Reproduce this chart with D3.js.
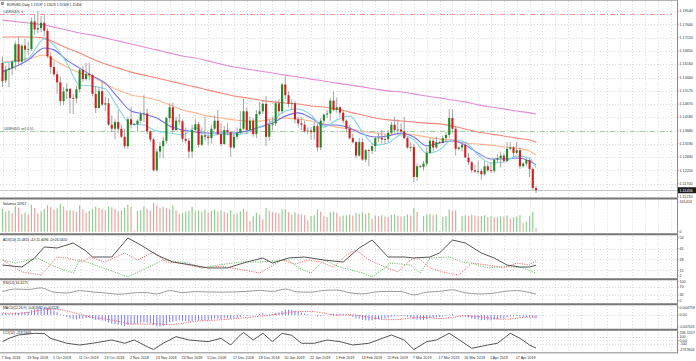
<!DOCTYPE html>
<html>
<head>
<meta charset="utf-8">
<script src="https://cdn.jsdelivr.net/npm/d3@7"></script>
<style>
html, body { margin: 0; padding: 0; background: #ffffff; }
svg { display: block; font-family: "Liberation Sans", Arial, sans-serif; }
</style>
</head>
<body>
<svg id="chart" width="696" height="361"></svg>
<script>
// ---------- data ----------
let dateLabels = ['7 Sep 2018', '19 Sep 2018', '1 Oct 2018', '11 Oct 2018', '23 Oct 2018', '2 Nov 2018',
    '13 Nov 2018', '23 Nov 2018', '5 Dec 2018', '17 Dec 2018', '28 Dec 2018', '10 Jan 2019', '22 Jan 2019',
    '1 Feb 2019', '13 Feb 2019', '25 Feb 2019', '7 Mar 2019', '17 Mar 2019', '26 Mar 2019', '5 Apr 2019',
    '17 Apr 2019'];

let open = [
    1.1620,1.1555,1.1595,1.1600,1.1625,1.1690,1.1625,1.1685,
    1.1670,1.1672,1.1775,1.1745,1.1750,1.1770,1.1740,1.1645,
    1.1605,1.1578,1.1548,1.1478,1.1514,1.1524,1.1490,1.1488,
    1.1522,1.1595,1.1560,1.1580,1.1575,1.1505,1.1452,1.1515,
    1.1465,1.1470,1.1390,1.1375,1.1400,1.1375,1.1345,1.1310,
    1.1410,1.1390,1.1392,1.1405,1.1430,1.1432,1.1365,1.1335,
    1.1220,1.1290,1.1310,1.1330,1.1415,1.1455,1.1370,1.1405,
    1.1403,1.1337,1.1330,1.1290,1.1370,1.1392,1.1315,1.1350,
    1.1345,1.1340,1.1375,1.1405,1.1355,1.1318,1.1370,1.1362,
    1.1305,1.1345,1.1360,1.1375,1.1440,1.1370,1.1405,1.1355,
    1.1430,1.1440,1.1468,1.1345,1.1390,1.1395,1.1470,1.1440,
    1.1540,1.1500,1.1468,1.1470,1.1410,1.1395,1.1390,1.1365,
    1.1368,1.1362,1.1385,1.1305,1.1405,1.1428,1.1432,1.1480,
    1.1445,1.1455,1.1435,1.1405,1.1375,1.1340,1.1325,1.1275,
    1.1325,1.1260,1.1295,1.1293,1.1310,1.1340,1.1342,1.1335,
    1.1336,1.1360,1.1390,1.1370,1.1372,1.1365,1.1340,1.1305,
    1.1307,1.1195,1.1235,1.1232,1.1245,1.1285,1.1330,1.1305,
    1.1325,1.1322,1.1340,1.1352,1.1415,1.1375,1.1300,1.1305,
    1.1315,1.1268,1.1250,1.1220,1.1215,1.1217,1.1205,1.1235,
    1.1220,1.1218,1.1260,1.1265,1.1275,1.1255,1.1300,1.1305,
    1.1285,1.1295,1.1235,1.1245,1.1258,1.1225,1.11537];

let high = [
    1.1645,1.1610,1.1620,1.1630,1.1700,1.1720,1.1690,1.1710,
    1.1700,1.1790,1.1802,1.1815,1.1795,1.1800,1.1750,1.1660,
    1.1625,1.1590,1.1570,1.1530,1.1545,1.1525,1.1505,1.1535,
    1.1600,1.1610,1.1621,1.1620,1.1580,1.1535,1.1530,1.1550,
    1.1495,1.1490,1.1425,1.1410,1.1445,1.1390,1.1375,1.1420,
    1.1456,1.1396,1.1410,1.1440,1.1500,1.1450,1.1370,1.1340,
    1.1300,1.1325,1.1345,1.1420,1.1470,1.1472,1.1420,1.1430,
    1.1410,1.1380,1.1340,1.1390,1.1410,1.1400,1.1380,1.1420,
    1.1360,1.1390,1.1425,1.1445,1.1395,1.1385,1.1395,1.1365,
    1.1355,1.1380,1.1440,1.1486,1.1455,1.1420,1.1415,1.1445,
    1.1475,1.1480,1.1497,1.1410,1.1420,1.1480,1.1485,1.1545,
    1.1570,1.1515,1.1485,1.1480,1.1420,1.1420,1.1405,1.1380,
    1.1380,1.1400,1.1395,1.1415,1.1430,1.1445,1.1490,1.1514,
    1.1490,1.1460,1.1445,1.1410,1.1390,1.1355,1.1330,1.1340,
    1.1340,1.1300,1.1300,1.1320,1.1345,1.1360,1.1370,1.1355,
    1.1370,1.1400,1.1420,1.1410,1.1395,1.1420,1.1345,1.1325,
    1.1320,1.1245,1.1240,1.1255,1.1305,1.1340,1.1338,1.1345,
    1.1330,1.1350,1.1362,1.1448,1.1448,1.1385,1.1310,1.1325,
    1.1325,1.1285,1.1255,1.1240,1.1255,1.1225,1.1255,1.1245,
    1.1250,1.1265,1.1280,1.1290,1.1285,1.1325,1.1325,1.1310,
    1.1325,1.1305,1.1250,1.1265,1.1265,1.1230,1.11623];

let low = [
    1.1530,1.1545,1.1530,1.1575,1.1595,1.1610,1.1610,1.1625,
    1.1650,1.1665,1.1725,1.1730,1.1735,1.1720,1.1640,1.1580,
    1.1570,1.1505,1.1460,1.1463,1.1485,1.1432,1.1430,1.1470,
    1.1510,1.1550,1.1555,1.1555,1.1495,1.1433,1.1450,1.1460,
    1.1440,1.1385,1.1365,1.1336,1.1360,1.1340,1.1300,1.1300,
    1.1375,1.1386,1.1365,1.1395,1.1400,1.1355,1.1325,1.1216,
    1.1216,1.1265,1.1265,1.1320,1.1400,1.1360,1.1365,1.1390,
    1.1325,1.1320,1.1265,1.1267,1.1365,1.1305,1.1310,1.1330,
    1.1315,1.1320,1.1370,1.1350,1.1310,1.1315,1.1350,1.1270,
    1.1300,1.1335,1.1355,1.1370,1.1355,1.1365,1.1345,1.1340,
    1.1425,1.1430,1.1310,1.1330,1.1370,1.1385,1.1425,1.1430,
    1.1485,1.1455,1.1445,1.1395,1.1380,1.1370,1.1360,1.1355,
    1.1335,1.1335,1.1290,1.1295,1.1395,1.1415,1.1405,1.1440,
    1.1435,1.1420,1.1395,1.1360,1.1335,1.1320,1.1265,1.1270,
    1.1255,1.1250,1.1235,1.1280,1.1290,1.1325,1.1320,1.1320,
    1.1325,1.1350,1.1360,1.1360,1.1355,1.1335,1.1300,1.1290,
    1.1176,1.1180,1.1228,1.1220,1.1235,1.1280,1.1290,1.1300,
    1.1318,1.1320,1.1325,1.1340,1.1360,1.1275,1.1295,1.1290,
    1.1265,1.1240,1.1210,1.1210,1.1205,1.1185,1.1200,1.1215,
    1.1210,1.1210,1.1250,1.1230,1.1250,1.1250,1.1295,1.1270,
    1.1280,1.1225,1.1230,1.1235,1.1195,1.1145,1.11348];

let close = [
    1.1552,1.1595,1.1600,1.1625,1.1690,1.1625,1.1685,1.1670,
    1.1672,1.1775,1.1745,1.1750,1.1770,1.1740,1.1645,1.1605,
    1.1578,1.1548,1.1478,1.1514,1.1524,1.1490,1.1488,1.1522,
    1.1595,1.1560,1.1580,1.1575,1.1505,1.1452,1.1515,1.1465,
    1.1470,1.1390,1.1375,1.1400,1.1375,1.1345,1.1310,1.1410,
    1.1390,1.1392,1.1405,1.1430,1.1432,1.1365,1.1335,1.1220,
    1.1290,1.1310,1.1330,1.1415,1.1455,1.1370,1.1405,1.1403,
    1.1337,1.1330,1.1290,1.1370,1.1392,1.1315,1.1350,1.1345,
    1.1340,1.1375,1.1405,1.1355,1.1318,1.1370,1.1362,1.1305,
    1.1345,1.1360,1.1375,1.1440,1.1370,1.1405,1.1355,1.1430,
    1.1440,1.1468,1.1345,1.1390,1.1395,1.1470,1.1440,1.1540,
    1.1500,1.1468,1.1470,1.1410,1.1395,1.1390,1.1365,1.1368,
    1.1362,1.1385,1.1305,1.1405,1.1428,1.1432,1.1480,1.1445,
    1.1455,1.1435,1.1405,1.1375,1.1340,1.1325,1.1275,1.1325,
    1.1260,1.1295,1.1293,1.1310,1.1340,1.1342,1.1335,1.1336,
    1.1360,1.1390,1.1370,1.1372,1.1365,1.1340,1.1305,1.1307,
    1.1195,1.1235,1.1232,1.1245,1.1285,1.1330,1.1305,1.1325,
    1.1322,1.1340,1.1352,1.1415,1.1375,1.1300,1.1305,1.1315,
    1.1268,1.1250,1.1220,1.1215,1.1217,1.1205,1.1235,1.1220,
    1.1218,1.1260,1.1265,1.1275,1.1255,1.1300,1.1305,1.1285,
    1.1295,1.1235,1.1245,1.1258,1.1225,1.1154,1.11456];

let volume = [
    128000,112000,118000,104000,142000,135000,98000,106000,
    96000,150000,132000,104000,112000,126000,148000,138000,
    122000,130000,155000,140000,118000,121000,117000,110000,
    146000,124000,105000,115000,128000,140000,132000,126000,
    118000,142000,136000,128000,112000,120000,134000,150000,
    138000,6000,116000,120000,140000,128000,118000,160000,
    148000,132000,138000,130000,126000,146000,120000,98000,
    104000,112000,116000,138000,114000,118000,110000,122000,
    108000,116000,124000,112000,118000,110000,104000,120000,
    98000,102000,112000,128000,114000,60000,86000,106000,
    94000,70000,132000,118000,110000,106000,102000,124000,
    126000,110000,94000,108000,98000,96000,92000,64000,
    88000,92000,124000,112000,86000,82000,108000,112000,
    104000,84000,90000,92000,96000,90000,104000,100000,
    108000,98000,104000,72000,90000,86000,92000,84000,
    82000,94000,96000,88000,84000,86000,96000,90000,
    132000,110000,4000,88000,96000,98000,92000,96000,
    5000,82000,86000,124000,116000,118000,5000,86000,
    92000,88000,96000,90000,84000,88000,92000,82000,
    86000,80000,82000,86000,84000,90000,74000,80000,
    84000,92000,48000,56000,86000,112000,20957];

// moving averages, read at these bar positions
let maIdx = [0,8,13,16,20,24,28,32,36,40,44,48,52,56,60,64,68,72,76,80,84,88,92,96,100,
    104,108,112,116,120,124,128,132,136,140,144,148,152,156,160,164,166];
let maPink = [1.1780,1.1769,1.1762,1.1754,1.1743,1.1732,1.1724,1.1713,1.1702,1.1691,1.1680,1.1669,
    1.1657,1.1646,1.1639,1.1628,1.1616,1.1605,1.1598,1.1590,1.1583,1.1575,1.1568,1.1560,1.1553,1.1545,
    1.1538,1.1531,1.1523,1.1516,1.1512,1.1505,1.1497,1.1490,1.1482,1.1475,1.1464,1.1456,1.1449,1.1441,
    1.1434,1.1430];
let maRed = [1.1717,1.1717,1.1713,1.1698,1.1676,1.1657,1.1635,1.1616,1.1601,1.1586,1.1575,1.1564,
    1.1553,1.1542,1.1531,1.1519,1.1508,1.1497,1.1490,1.1482,1.1475,1.1471,1.1467,1.1460,1.1456,1.1449,
    1.1437,1.1426,1.1415,1.1408,1.1404,1.1400,1.1396,1.1393,1.1385,1.1374,1.1363,1.1355,1.1348,1.1340,
    1.1333,1.1325];
let maOrange = [1.1624,1.1635,1.1650,1.1631,1.1605,1.1583,1.1568,1.1542,1.1519,1.1501,1.1493,1.1482,
    1.1464,1.1445,1.1434,1.1422,1.1415,1.1408,1.1404,1.1404,1.1411,1.1415,1.1411,1.1404,1.1393,1.1381,
    1.1374,1.1366,1.1359,1.1355,1.1355,1.1352,1.1344,1.1337,1.1333,1.1322,1.1318,1.1314,1.1307,1.1303,
    1.1292,1.1277];
let maBlue = [1.1587,1.1631,1.1676,1.1669,1.1631,1.1601,1.1572,1.1545,1.1490,1.1441,1.1430,1.1415,
    1.1385,1.1370,1.1363,1.1359,1.1359,1.1359,1.1366,1.1381,1.1396,1.1422,1.1434,1.1415,1.1389,1.1389,
    1.1378,1.1355,1.1344,1.1348,1.1359,1.1344,1.1311,1.1322,1.1329,1.1314,1.1284,1.1262,1.1262,1.1266,
    1.1255,1.1240];
let maCyan = [1.1620,1.1639,1.1710,1.1687,1.1620,1.1538,1.1534,1.1523,1.1452,1.1393,1.1389,1.1366,
    1.1359,1.1352,1.1378,1.1348,1.1355,1.1352,1.1359,1.1381,1.1404,1.1441,1.1449,1.1426,1.1381,1.1408,
    1.1422,1.1363,1.1314,1.1322,1.1352,1.1333,1.1284,1.1296,1.1333,1.1325,1.1277,1.1247,1.1251,1.1273,
    1.1266,1.1229];

let slPrice = 1.1802;
let sellPrice = 1.1366;
let lastPrice = 1.11456;

// ADX(14)
let adxIdx = [0,6,10,13,17,22,26,28,34,39,43,48,53,59,64,70,76,81,84,89,94,100,106,111,115,120,
    125,128,133,136,140,144,149,153,157,161,164,166];
let adxVal = [21.3,18.9,29.7,42.9,41.7,47.7,38,30.9,30.9,53.6,45.3,33.3,24.9,21.3,17.8,17.8,24.9,29.7,
    23.7,29.7,30.9,27.3,24.9,41.7,51.2,30.9,30.9,29.7,30.9,35.7,51.2,47.7,35.7,29.7,21.3,18.9,18.9,21.08];
let pdiIdx = [0,4,11,15,22,24,39,50,58,62,67,74,80,89,92,96,100,105,112,115,121,127,130,133,139,143,
    146,151,156,162,166];
let pdiVal = [27.3,23.7,29.7,21.3,11.8,28,7.1,27.3,23.7,17.8,21.3,24.9,24.9,27.3,17.8,11.8,27.3,18.9,
    11.8,7.1,23.7,21.3,11.8,29.7,30.9,24.9,23.7,17.8,20,17.8,11.41];
let mdiIdx = [0,6,12,17,20,25,27,32,38,42,47,51,55,62,68,75,80,87,91,95,99,103,107,110,114,119,123,
    127,129,133,137,142,146,151,156,160,164,166];
let mdiVal = [27.3,13.0,9.4,30.9,29.7,24.9,30.9,24.9,35.7,27.3,36.9,24.9,23.7,17.8,20,15.4,11.8,27.3,
    22.5,27.3,24.9,18.9,33.3,39.3,27.3,18.9,13.0,27.3,30.9,17.8,13.0,9.4,23.7,21.3,17.8,23.7,21.3,26.56];

// RSI(14) and MACD signal, read every 4 bars
let stepIdx = [0,4,8,12,16,20,24,28,32,36,40,44,48,52,56,60,64,68,72,76,80,84,88,92,96,100,104,108,
    112,116,120,124,128,132,136,140,144,148,152,156,160,164,166];
let rsiVal = [47,60,58,66,44,40,52,45,40,33,39,43,35,52,42,47,45,44,45,48,53,48,60,45,44,53,55,41,35,
    45,48,47,30,44,48,56,41,35,37,48,52,42,34.33];
let macdSignal = [0.0012,0.0011,0.0017,0.0030,0.0036,0.0025,0.0006,-0.0014,-0.0024,-0.0037,-0.0054,
    -0.0055,-0.0053,-0.0058,-0.0050,-0.0037,-0.0033,-0.0028,-0.0022,-0.0015,-0.0007,0.0002,0.0013,0.0022,
    0.0022,0.0012,-0.0001,0.0003,-0.0006,-0.0020,-0.0028,-0.0025,-0.0016,-0.0015,-0.0021,-0.0014,-0.0004,
    -0.0009,-0.0019,-0.0025,-0.0019,-0.0011,-0.00113];

// MACD main (histogram), one per bar
let macdMain = [
    0.0010,0.0009,0.0008,0.0009,0.0014,0.0013,0.0017,0.0019,
    0.0020,0.0030,0.0036,0.0041,0.0045,0.0047,0.0043,0.0036,
    0.0028,0.0018,0.0004,-0.0005,-0.0011,-0.0019,-0.0025,-0.0027,
    -0.0022,-0.0021,-0.0018,-0.0016,-0.0021,-0.0029,-0.0029,-0.0033,
    -0.0036,-0.0045,-0.0052,-0.0054,-0.0057,-0.0061,-0.0066,-0.0060,
    -0.0057,-0.0056,-0.0053,-0.0048,-0.0044,-0.0046,-0.0050,-0.0062,
    -0.0068,-0.0070,-0.0067,-0.0056,-0.0043,-0.0040,-0.0035,-0.0032,
    -0.0034,-0.0036,-0.0040,-0.0036,-0.0031,-0.0033,-0.0032,-0.0031,
    -0.0031,-0.0028,-0.0022,-0.0022,-0.0024,-0.0020,-0.0019,-0.0022,
    -0.0019,-0.0016,-0.0012,-0.0004,-0.0004,-0.0001,-0.0003,0.0003,
    0.0007,0.0012,0.0005,0.0004,0.0005,0.0014,0.0017,0.0027,
    0.0032,0.0033,0.0032,0.0027,0.0021,0.0016,0.0010,0.0006,
    0.0002,0.0000,-0.0008,-0.0006,-0.0003,0.0000,0.0006,0.0008,
    0.0009,0.0009,0.0007,0.0002,-0.0005,-0.0011,-0.0020,-0.0022,
    -0.0030,-0.0032,-0.0033,-0.0032,-0.0028,-0.0025,-0.0023,-0.0021,
    -0.0016,-0.0010,-0.0008,-0.0006,-0.0005,-0.0006,-0.0010,-0.0013,
    -0.0024,-0.0028,-0.0029,-0.0029,-0.0026,-0.0019,-0.0016,-0.0012,
    -0.0011,-0.0008,-0.0005,0.0004,0.0007,0.0002,-0.0002,-0.0004,
    -0.0009,-0.0014,-0.0020,-0.0024,-0.0027,-0.0031,-0.0030,-0.0031,
    -0.0032,-0.0028,-0.0024,-0.0020,-0.0019,-0.0013,-0.0009,-0.0008,
    -0.0006,-0.0009,-0.0010,-0.0010,-0.0012,-0.0017,-0.00198];

// CCI(14)
let cciIdx = [0,2,5,10,13,15,20,24,28,34,38,41,45,47,50,54,58,64,68,71,74,75,78,81,84,87,90,93,97,101,
    105,109,114,121,125,128,132,135,139,143,146,151,154,156,158,161,164,166];
let cciVal = [-33,63,158,207,200,63,-80,-130,-80,14,-80,14,-178,-260,-80,110,14,-33,63,-130,158,230,14,
    207,-33,207,150,-80,-80,14,-33,-130,-80,158,14,-260,-33,14,207,-35,-225,-130,-80,63,207,63,-130,-218.56];

// right axis tick labels
let priceTicks = [1.18140,1.17640,1.17150,1.16650,1.16160,1.15660,1.15170,1.14670,1.14180,1.13680,
    1.13190,1.12690,1.12200,1.11700,1.11210];
let volTicks = [165424, 0];
let adxTicks = [54, 41, 28, 15, 2];
let rsiTicks = [100, 70, 30, 0];
let macdTicks = [0.004759, 0, -0.007053];
let macdTickText = ['0.004759', '0.00', '-0.007053'];
let cciTicks = [236.1557, 100, 0, -100, -273.9603];
let cciTickText = ['236.1557', '100', '0.00', '-100', '-273.9603'];

let headerText = 'EURUSD,Daily  1.11537 1.11623 1.11348 1.11456';
let panelTitles = ['Volumes 20957', 'ADX(14) 21.0815 +DI:11.4096 -DI:26.5610', 'RSI(14) 34.3275',
    'MACD(12,26,9) -0.001981 -0.001128', 'CCI(14) -218.5609'];

// ---------- layout ----------
let plotRight = 677;
let panels = [
    { code: 'main', top: 0,     bottom: 198 },
    { code: 'vol',  top: 199.5, bottom: 233.5 },
    { code: 'adx',  top: 235,   bottom: 278.5 },
    { code: 'rsi',  top: 280,   bottom: 303.5 },
    { code: 'macd', top: 305,   bottom: 329 },
    { code: 'cci',  top: 330.5, bottom: 352.5 },
];
let gridColor = '#d4d4d4';
let labelColor = '#333333';

let x = d3.scaleLinear().domain([0, close.length - 1]).range([2.5, 536]);
let yPrice = d3.scaleLinear().domain([1.11700, 1.18140]).range([183.7, 11]);
let yVol = d3.scaleLinear().domain([0, 165424]).range([231.7, 202]);
let yAdx = d3.scaleLinear().domain([15, 54]).range([270.3, 237.7]);
let yRsi = d3.scaleLinear().domain([0, 100]).range([300.7, 281.3]);
let yMacd = d3.scaleLinear().domain([-0.007053, 0.004759]).range([326.7, 307.3]);
let yCci = d3.scaleLinear().domain([-273.9603, 236.1557]).range([350, 332.3]);

function makeClips (svg) {
    let defs = svg.append('defs');
    defs.selectAll('clipPath')
        .data(panels, (d) => { return d.code; })
        .enter()
        .append('clipPath')
        .attr('id', (d) => { return 'clip-' + d.code; })
        .append('rect')
        .attr('x', 0)
        .attr('y', (d) => { return d.top; })
        .attr('width', plotRight)
        .attr('height', (d) => { return d.bottom - d.top; });
}

function panelGroup (svg, code) {
    return svg.append('g')
        .attr('class', 'panel ' + code)
        .attr('clip-path', 'url(#clip-' + code + ')');
}

function drawGrid (svg) {
    let g = svg.append('g').attr('class', 'grid');
    let vIdx = d3.range(0, 212, 4).filter((i) => { return x(i) < plotRight - 2; });

    panels.forEach((p) => {
        g.selectAll('line.v-' + p.code)
            .data(vIdx)
            .enter()
            .append('line')
            .attr('class', 'v-' + p.code)
            .attr('x1', (d) => { return Math.round(x(d)) + 0.5; })
            .attr('x2', (d) => { return Math.round(x(d)) + 0.5; })
            .attr('y1', p.top + 1)
            .attr('y2', p.bottom - 1)
            .attr('stroke', gridColor)
            .attr('stroke-width', 0.8)
            .attr('stroke-dasharray', '1,2');
    });

    let hLines = [].concat(
        priceTicks.slice(0, -1).map((t) => { return yPrice(t); }),
        [41, 28, 15].map((t) => { return yAdx(t); }),
        [70, 30].map((t) => { return yRsi(t); }),
        [yMacd(0)],
        [100, 0, -100].map((t) => { return yCci(t); })
    );

    g.selectAll('line.h')
        .data(hLines)
        .enter()
        .append('line')
        .attr('class', 'h')
        .attr('x1', 0)
        .attr('x2', plotRight)
        .attr('y1', (d) => { return Math.round(d) + 0.5; })
        .attr('y2', (d) => { return Math.round(d) + 0.5; })
        .attr('stroke', gridColor)
        .attr('stroke-width', 0.8)
        .attr('stroke-dasharray', '1,2');
}

function drawMain (svg) {
    let g = panelGroup(svg, 'main');
    let bars = d3.range(close.length).map((i) => {
        return { i: i, o: open[i], h: high[i], l: low[i], c: close[i] };
    });

    // order lines
    let orders = [
        { _id: 1, price: slPrice, color: '#ff9a9a' },
        { _id: 2, price: sellPrice, color: '#9fd09f' },
    ];
    g.selectAll('line.order')
        .data(orders, (d) => { return d._id; })
        .enter()
        .append('line')
        .attr('class', 'order')
        .attr('x1', 0)
        .attr('x2', plotRight - 5)
        .attr('y1', (d) => { return Math.round(yPrice(d.price)) + 0.5; })
        .attr('y2', (d) => { return Math.round(yPrice(d.price)) + 0.5; })
        .attr('stroke', (d) => { return d.color; })
        .attr('stroke-width', 1)
        .attr('stroke-dasharray', '5,2,1,2');

    // last price line
    g.append('line')
        .attr('x1', 0)
        .attr('x2', plotRight)
        .attr('y1', Math.round(yPrice(lastPrice)) + 0.5)
        .attr('y2', Math.round(yPrice(lastPrice)) + 0.5)
        .attr('stroke', '#c8c8c8')
        .attr('stroke-width', 1);

    // moving averages
    let mas = [
        { code: 'pink', values: maPink, color: '#e38ad8' },
        { code: 'red', values: maRed, color: '#f4877a' },
        { code: 'orange', values: maOrange, color: '#ffb58c' },
        { code: 'blue', values: maBlue, color: '#7272f2' },
        { code: 'cyan', values: maCyan, color: '#86d6e6' },
    ];
    let maLine = d3.line()
        .x((d) => { return x(d[0]); })
        .y((d) => { return yPrice(d[1]); })
        .curve(d3.curveMonotoneX);

    g.selectAll('path.ma')
        .data(mas, (d) => { return d.code; })
        .enter()
        .append('path')
        .attr('class', 'ma')
        .attr('d', (d) => { return maLine(d3.zip(maIdx, d.values)); })
        .attr('fill', 'none')
        .attr('stroke', (d) => { return d.color; })
        .attr('stroke-width', 1.1);

    // candles
    g.selectAll('line.wick')
        .data(bars)
        .enter()
        .append('line')
        .attr('class', 'wick')
        .attr('x1', (d) => { return x(d.i); })
        .attr('x2', (d) => { return x(d.i); })
        .attr('y1', (d) => { return yPrice(d.h); })
        .attr('y2', (d) => { return yPrice(d.l); })
        .attr('stroke', '#9c9c9c')
        .attr('stroke-width', 0.9);

    g.selectAll('rect.body')
        .data(bars)
        .enter()
        .append('rect')
        .attr('class', 'body')
        .attr('x', (d) => { return x(d.i) - 1.05; })
        .attr('y', (d) => { return yPrice(Math.max(d.o, d.c)); })
        .attr('width', 2.1)
        .attr('height', (d) => { return Math.max(0.8, Math.abs(yPrice(d.o) - yPrice(d.c))); })
        .attr('fill', (d) => { return d.c >= d.o ? '#1f8a24' : '#d21f1f'; });

    // order labels
    let t = svg.append('g').attr('class', 'order-labels');
    t.append('text').attr('x', 3).attr('y', yPrice(slPrice) - 1.6)
        .attr('font-size', 3.4).attr('fill', '#444').text('#44896405 sl');
    t.append('text').attr('x', 3).attr('y', yPrice(sellPrice) - 1.6)
        .attr('font-size', 3.4).attr('fill', '#444').text('#44896405 sell 0.01');
}

function drawVolumes (svg) {
    let g = panelGroup(svg, 'vol');
    g.selectAll('line.vol')
        .data(volume)
        .enter()
        .append('line')
        .attr('class', 'vol')
        .attr('x1', (d, i) => { return x(i); })
        .attr('x2', (d, i) => { return x(i); })
        .attr('y1', yVol(0))
        .attr('y2', (d) => { return yVol(d); })
        .attr('stroke', (d, i) => { return (i === 0 || d > volume[i - 1]) ? '#8fcf8f' : '#f2a2a2'; })
        .attr('stroke-width', 1.2);
}

function drawAdx (svg) {
    let g = panelGroup(svg, 'adx');
    let line = d3.line()
        .x((d) => { return x(d[0]); })
        .y((d) => { return yAdx(d[1]); });
    let series = [
        { code: 'pdi', data: d3.zip(pdiIdx, pdiVal), color: '#6fbf6f', dash: '1.2,1.2', w: 1 },
        { code: 'mdi', data: d3.zip(mdiIdx, mdiVal), color: '#f07070', dash: '1.2,1.2', w: 1 },
        { code: 'adx', data: d3.zip(adxIdx, adxVal), color: '#555555', dash: null, w: 1 },
    ];
    g.selectAll('path.ind')
        .data(series, (d) => { return d.code; })
        .enter()
        .append('path')
        .attr('class', 'ind')
        .attr('d', (d) => { return line(d.data); })
        .attr('fill', 'none')
        .attr('stroke', (d) => { return d.color; })
        .attr('stroke-width', (d) => { return d.w; })
        .attr('stroke-dasharray', (d) => { return d.dash; });
}

function drawRsi (svg) {
    let g = panelGroup(svg, 'rsi');
    let line = d3.line()
        .x((d) => { return x(d[0]); })
        .y((d) => { return yRsi(d[1]); })
        .curve(d3.curveMonotoneX);
    g.append('path')
        .attr('d', line(d3.zip(stepIdx, rsiVal)))
        .attr('fill', 'none')
        .attr('stroke', '#9a9a9a')
        .attr('stroke-width', 1);
}

function drawMacd (svg) {
    let g = panelGroup(svg, 'macd');
    g.selectAll('line.hist')
        .data(macdMain)
        .enter()
        .append('line')
        .attr('class', 'hist')
        .attr('x1', (d, i) => { return x(i); })
        .attr('x2', (d, i) => { return x(i); })
        .attr('y1', yMacd(0))
        .attr('y2', (d) => { return yMacd(d); })
        .attr('stroke', '#7d7dff')
        .attr('stroke-width', 1);

    let line = d3.line()
        .x((d) => { return x(d[0]); })
        .y((d) => { return yMacd(d[1]); })
        .curve(d3.curveMonotoneX);
    g.append('path')
        .attr('d', line(d3.zip(stepIdx, macdSignal)))
        .attr('fill', 'none')
        .attr('stroke', '#f06a6a')
        .attr('stroke-width', 1)
        .attr('stroke-dasharray', '1.2,1.2');
}

function drawCci (svg) {
    let g = panelGroup(svg, 'cci');
    let line = d3.line()
        .x((d) => { return x(d[0]); })
        .y((d) => { return yCci(d[1]); });
    g.append('path')
        .attr('d', line(d3.zip(cciIdx, cciVal)))
        .attr('fill', 'none')
        .attr('stroke', '#555555')
        .attr('stroke-width', 1);
}

function drawFrame (svg) {
    let g = svg.append('g').attr('class', 'frame');

    g.append('line')
        .attr('x1', 0).attr('x2', plotRight)
        .attr('y1', 0.5).attr('y2', 0.5)
        .attr('stroke', '#b4b4b4').attr('stroke-width', 1);

    let seps = [198.6, 234.3, 279.2, 304.3, 329.7];
    g.selectAll('line.sep')
        .data(seps)
        .enter()
        .append('line')
        .attr('class', 'sep')
        .attr('x1', 0).attr('x2', plotRight)
        .attr('y1', (d) => { return d; }).attr('y2', (d) => { return d; })
        .attr('stroke', '#777777')
        .attr('stroke-width', 2);

    g.append('line')
        .attr('x1', 0).attr('x2', plotRight + 0.5)
        .attr('y1', 352.8).attr('y2', 352.8)
        .attr('stroke', '#8a8a8a').attr('stroke-width', 1);

    g.append('line')
        .attr('x1', plotRight + 0.5).attr('x2', plotRight + 0.5)
        .attr('y1', 0).attr('y2', 353.3)
        .attr('stroke', '#8a8a8a').attr('stroke-width', 1);
}

function drawRightAxis (svg) {
    let g = svg.append('g').attr('class', 'right-axis');
    let labels = [].concat(
        priceTicks.map((t) => { return { y: yPrice(t), text: d3.format('.5f')(t) }; }),
        volTicks.map((t) => { return { y: yVol(t), text: String(t) }; }),
        adxTicks.map((t) => { return { y: Math.min(yAdx(t), 275.5), text: String(t) }; }),
        rsiTicks.map((t) => { return { y: yRsi(t), text: String(t) }; }),
        macdTicks.map((t, i) => { return { y: yMacd(t), text: macdTickText[i] }; }),
        cciTicks.map((t, i) => { return { y: yCci(t), text: cciTickText[i] }; })
    );

    g.selectAll('line.tick')
        .data(labels)
        .enter()
        .append('line')
        .attr('class', 'tick')
        .attr('x1', plotRight + 0.5).attr('x2', plotRight + 2)
        .attr('y1', (d) => { return d.y; }).attr('y2', (d) => { return d.y; })
        .attr('stroke', '#8a8a8a').attr('stroke-width', 0.6);

    g.selectAll('text.tick')
        .data(labels)
        .enter()
        .append('text')
        .attr('class', 'tick')
        .attr('x', plotRight + 2.5)
        .attr('y', (d) => { return d.y + 1.3; })
        .attr('font-size', (d) => { return d.text.length > 8 ? 3.3 : 3.7; })
        .attr('fill', labelColor)
        .text((d) => { return d.text; });

    // last price box
    let ly = yPrice(lastPrice);
    g.append('rect')
        .attr('x', plotRight + 1).attr('y', ly - 3)
        .attr('width', 696 - plotRight - 1).attr('height', 6)
        .attr('fill', '#1c1c1c');
    g.append('text')
        .attr('x', plotRight + 2.5).attr('y', ly + 1.3)
        .attr('font-size', 3.7).attr('fill', '#ffffff')
        .text(d3.format('.5f')(lastPrice));
}

function drawDates (svg) {
    let g = svg.append('g').attr('class', 'dates');
    g.selectAll('text.date')
        .data(dateLabels)
        .enter()
        .append('text')
        .attr('class', 'date')
        .attr('x', (d, i) => { return x(i * 8) - 1; })
        .attr('y', 359.2)
        .attr('font-size', 3.7)
        .attr('fill', labelColor)
        .text((d) => { return d; });
}

function drawTitles (svg) {
    let g = svg.append('g').attr('class', 'titles');
    g.append('rect')
        .attr('x', 1).attr('y', 2).attr('width', 3).attr('height', 3)
        .attr('fill', '#9a9a9a');
    g.append('text')
        .attr('x', 7).attr('y', 5.6)
        .attr('font-size', 3.4).attr('fill', '#222')
        .text(headerText);

    let ys = [205, 241, 283.6, 308.8, 334.2];
    g.selectAll('text.ptitle')
        .data(panelTitles)
        .enter()
        .append('text')
        .attr('class', 'ptitle')
        .attr('x', 3)
        .attr('y', (d, i) => { return ys[i]; })
        .attr('font-size', 3.4)
        .attr('fill', '#222')
        .text((d) => { return d; });
}

let svg = d3.select('#chart');
makeClips(svg);
drawGrid(svg);
drawMain(svg);
drawVolumes(svg);
drawAdx(svg);
drawRsi(svg);
drawMacd(svg);
drawCci(svg);
drawFrame(svg);
drawRightAxis(svg);
drawDates(svg);
drawTitles(svg);
</script>
</body>
</html>
